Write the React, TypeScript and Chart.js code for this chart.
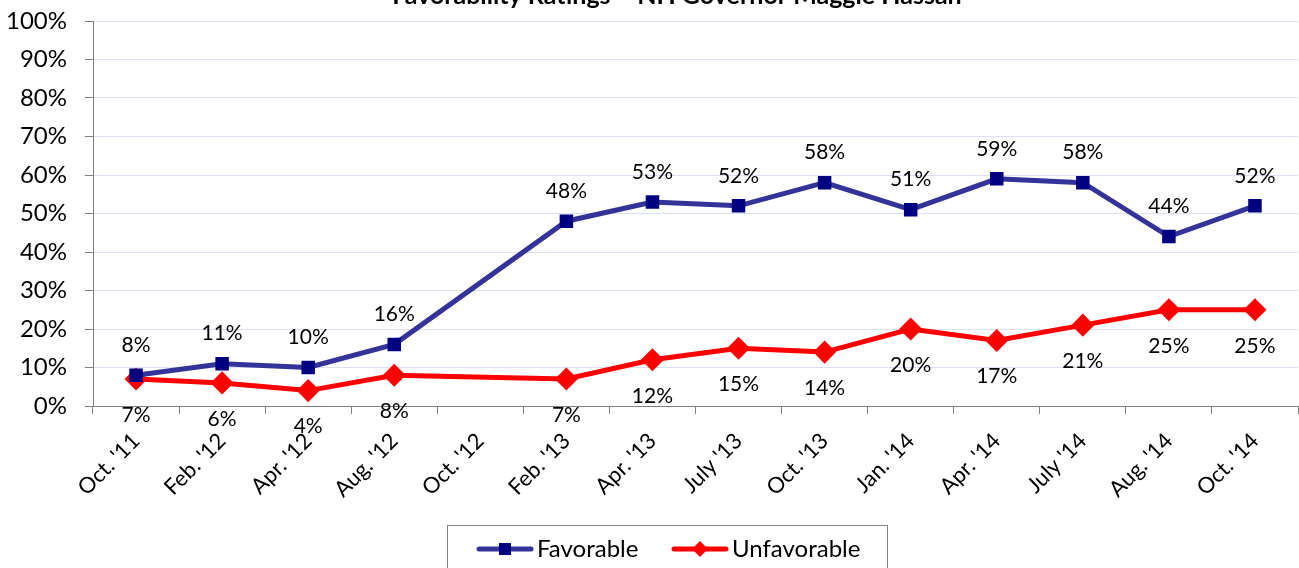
import React, { useEffect, useRef } from "react";
import { Chart, registerables } from "chart.js";

Chart.register(...registerables);

const categories = [
  "Oct. '11", "Feb. '12", "Apr. '12", "Aug. '12", "Oct. '12", "Feb. '13", "Apr. '13",
  "July '13", "Oct. '13", "Jan. '14", "Apr. '14", "July '14", "Aug. '14", "Oct. '14",
];
const favorable = [8, 11, 10, 16, null, 48, 53, 52, 58, 51, 59, 58, 44, 52];
const unfavorable = [7, 6, 4, 8, null, 7, 12, 15, 14, 20, 17, 21, 25, 25];
const yTicks = [0, 10, 20, 30, 40, 50, 60, 70, 80, 90, 100];
const titleText = "Favorability Ratings \u2013 NH Governor Maggie Hassan";

const FONT = "Lato, 'Noto Sans', sans-serif";

const labelPlugin = {
  id: "valueLabels",
  afterDatasetsDraw(chart: any) {
    const ctx = chart.ctx;
    ctx.save();
    ctx.font = `21px ${FONT}`;
    ctx.fillStyle = "#000";
    ctx.textAlign = "center";
    ctx.textBaseline = "middle";
    chart.data.datasets.forEach((ds: any, di: number) => {
      const meta = chart.getDatasetMeta(di);
      meta.data.forEach((pt: any, i: number) => {
        const v = ds.data[i];
        if (v === null || v === undefined) return;
        const off = di === 0 ? -30 : 36;
        ctx.fillText(v + "%", pt.x, pt.y + off);
      });
    });
    ctx.restore();
  },
};

const decorPlugin = {
  id: "decor",
  afterDraw(chart: any) {
    const ctx = chart.ctx;
    ctx.save();
    // title (cut off at top)
    ctx.font = `bold 25px ${FONT}`;
    ctx.fillStyle = "#000";
    ctx.textAlign = "center";
    ctx.textBaseline = "alphabetic";
    ctx.fillText(titleText, 677, 4);

    // legend box
    ctx.strokeStyle = "#868686";
    ctx.lineWidth = 1;
    ctx.strokeRect(447.5, 525.5, 440, 60);

    const ly = 549;
    // favorable
    ctx.strokeStyle = "#333399";
    ctx.lineWidth = 5;
    ctx.lineCap = "round";
    ctx.beginPath();
    ctx.moveTo(479, ly);
    ctx.lineTo(531, ly);
    ctx.stroke();
    ctx.fillStyle = "#000080";
    ctx.fillRect(499, ly - 6, 12, 12);
    // unfavorable
    ctx.strokeStyle = "#FF0000";
    ctx.beginPath();
    ctx.moveTo(674, ly);
    ctx.lineTo(726, ly);
    ctx.stroke();
    ctx.fillStyle = "#FF0000";
    ctx.beginPath();
    ctx.moveTo(700, ly - 8);
    ctx.lineTo(708, ly);
    ctx.lineTo(700, ly + 8);
    ctx.lineTo(692, ly);
    ctx.closePath();
    ctx.fill();

    ctx.font = `24px ${FONT}`;
    ctx.fillStyle = "#000";
    ctx.textAlign = "left";
    ctx.textBaseline = "middle";
    ctx.fillText("Favorable", 537, ly);
    ctx.fillText("Unfavorable", 732, ly);
    ctx.restore();
  },
};

export default function App() {
  const ref = useRef<HTMLCanvasElement | null>(null);
  useEffect(() => {
    if (!ref.current) return;
    const chart = new Chart(ref.current, {
      type: "line",
      data: {
        labels: categories,
        datasets: [
          {
            label: "Favorable",
            data: favorable,
            borderColor: "#333399",
            backgroundColor: "#000080",
            pointBackgroundColor: "#000080",
            pointBorderColor: "#000080",
            pointStyle: "rect",
            pointRadius: 6,
            borderWidth: 5,
            spanGaps: true,
            tension: 0,
          },
          {
            label: "Unfavorable",
            data: unfavorable,
            borderColor: "#FF0000",
            backgroundColor: "#FF0000",
            pointBackgroundColor: "#FF0000",
            pointBorderColor: "#FF0000",
            pointStyle: "rectRot",
            pointRadius: 8,
            borderWidth: 5,
            spanGaps: true,
            tension: 0,
          },
        ],
      },
      options: {
        responsive: false,
        animation: false,
        layout: { autoPadding: false, padding: { top: 21, right: 1, left: 0, bottom: 0 } },
        plugins: {
          legend: { display: false },
          title: { display: false },
          tooltip: { enabled: false },
        },
        scales: {
          x: {
            offset: true,
            grid: {
              offset: true,
              drawOnChartArea: false,
              drawTicks: true,
              tickLength: 8,
              color: "#808080",
            },
            border: { color: "#808080", width: 1 },
            ticks: {
              minRotation: 45,
              maxRotation: 45,
              autoSkip: false,
              padding: 14,
              color: "#000",
              font: { family: FONT, size: 22 },
            },
            afterFit(scale: any) {
              scale.height = 162;
              scale.paddingLeft = 0;
              scale.paddingRight = 0;
            },
          },
          y: {
            min: 0,
            max: 100,
            afterBuildTicks(scale: any) {
              scale.ticks = yTicks.map((v) => ({ value: v }));
            },
            grid: {
              color: "#D9E1F2",
              tickColor: "#808080",
              tickLength: 8,
              drawTicks: true,
            },
            border: { color: "#808080", width: 1 },
            ticks: {
              padding: 18,
              color: "#000",
              font: { family: FONT, size: 24 },
              callback: (v: any) => v + "%",
            },
            afterFit(scale: any) {
              scale.width = 93;
              scale.paddingTop = 0;
              scale.paddingBottom = 0;
            },
          },
        },
      },
      plugins: [labelPlugin, decorPlugin],
    });
    return () => chart.destroy();
  }, []);
  return (
    <div style={{ position: "fixed", left: 0, top: 0, width: 1299, height: 568, background: "#fff" }}>
      <canvas ref={ref} width={1299} height={568} style={{ display: "block" }} />
    </div>
  );
}
